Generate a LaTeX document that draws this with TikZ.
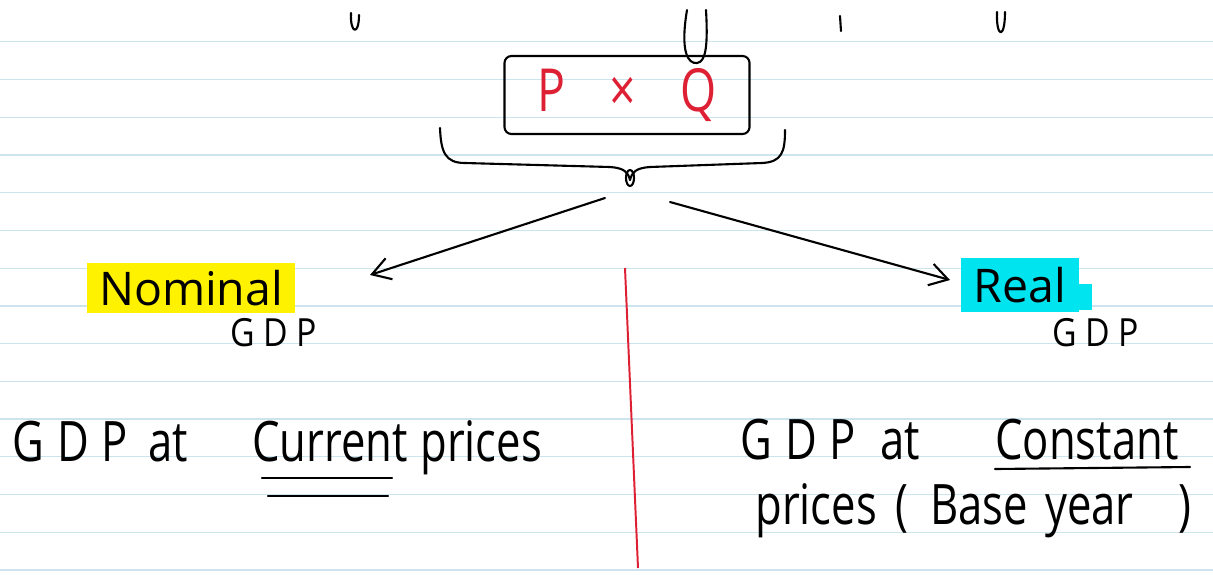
\documentclass[tikz,border=0pt]{standalone}
\usepackage{graphicx}
\usepackage{fontspec}
\setmainfont{Open Sans}
\usetikzlibrary{arrows.meta,calc}
\definecolor{ruled}{RGB}{204,228,238}
\definecolor{hlyellow}{RGB}{255,242,0}
\definecolor{hlcyan}{RGB}{0,228,240}
\definecolor{inkred}{RGB}{222,32,52}
\newcommand{\tall}[1]{\scalebox{1}[1.28]{#1}}

\begin{document}
\begin{tikzpicture}[x=0.025cm, y=-0.025cm,
    ink/.style={line width=1.5pt, line cap=round, line join=round},
    hand/.style={font=\fontsize{31}{36}\selectfont, inner sep=0pt, anchor=base west},
    spaced/.style={font=\fontsize{31}{36}\selectfont\addfontfeature{LetterSpace=30}, inner sep=0pt, anchor=base west},
    gdp/.style={font=\fontsize{24}{28}\selectfont\addfontfeature{LetterSpace=25}, inner sep=0pt, anchor=base west},
    hilite/.style={font=\fontsize{33}{36}\selectfont, inner sep=0pt}]
  % page: 1213 x 574 px, 1 px = 0.025 cm, y runs down
  \useasboundingbox (0,0) rectangle (1213,574);
  \fill[white] (0,0) rectangle (1213,574);
  % ruled lines, one every 37.74 px
  \foreach \k in {0,...,14}
     \draw[ruled, line width=0.9pt] (0,{41.7+37.74*\k}) -- (1213,{41.7+37.74*\k});
  % ends of the line written above
  \draw[ink] (351,13) .. controls (350,34) and (359,36) .. (359,15);
  \draw[ink] (687,10) .. controls (680,52) and (688,64) .. (697,63) .. controls (706,62) and (708,45) .. (706,10);
  \draw[ink] (840,16) -- (841,31);
  \draw[ink] (997,12) .. controls (996,38) and (1005,40) .. (1005,12);
  % P x Q box
  \node[draw, ink, rounded corners=5pt, minimum width=6.125cm, minimum height=1.95cm,
        text=inkred, font=\fontsize{33}{36}\selectfont] (pq) at (627,95)
        {\tall{P\hspace{1.1cm}×\hspace{1.1cm}Q}};
  % brace under the box
  \coordinate (tip) at (630,186);
  \draw[ink] (440,128) .. controls (441,152) and (445,163) .. (465,163) -- (610,167)
     .. controls (624,168) and (628,172) .. (630,180)
     .. controls (632,172) and (636,168) .. (650,167) -- (762,163)
     .. controls (782,162) and (785,152) .. (785,130);
  \draw[ink] (630,178) ellipse (4 and 8);
  % the two branches
  \coordinate (bl) at (605,198);
  \coordinate (br) at (670,202);
  \coordinate (nomtip) at (370,275);
  \coordinate (realtip) at (950,280);
  \draw[ink, -{Straight Barb[length=4.5mm, width=5.5mm]}] (bl) -- (nomtip);
  \draw[ink, -{Straight Barb[length=4.5mm, width=5.5mm]}] (br) -- (realtip);
  % headings
  \node[hilite, fill=hlyellow, minimum width=5.175cm, minimum height=1.27cm] (nominal) at (191,288) {Nominal};
  \node[gdp] (gdpl) at (230,346) {\scalebox{1}[1.15]{GDP}};
  \fill[hlcyan] (1078,284) rectangle (1092,310);
  \node[hilite, fill=hlcyan, minimum width=2.95cm, minimum height=1.35cm] (real) at (1020,285) {Real};
  \node[gdp] (gdpr) at (1052,346) {\scalebox{1}[1.15]{GDP}};
  % margin line
  \draw[inkred, line width=1.4pt] (625,268) -- (638,568);
  % left column
  \node[spaced] (lgdp) at (12,461) {\tall{GDP}};
  \node[hand] (lat) at (148,461) {\tall{at}};
  \node[hand] (current) at (252,461) {\tall{Current}};
  \node[hand] (lprices) at (420,461) {\tall{prices}};
  \draw[ink] (262,478) -- (392,478);
  \draw[ink] (268,496) -- (388,496);
  % right column
  \node[spaced] (rgdp) at (740,459) {\tall{GDP}};
  \node[hand] (rat) at (880,459) {\tall{at}};
  \node[hand] (constant) at (995,459) {\tall{Constant}};
  \draw[ink] (995,469) -- (1190,467);
  \node[hand] (rprices) at (755,524) {\tall{prices}};
  \node[hand] (open) at (895,524) {\tall{(}};
  \node[hand] (base) at (930,524) {\tall{Base}};
  \node[hand] (year) at (1045,524) {\tall{year}};
  \node[hand] (close) at (1178,524) {\tall{)}};
\end{tikzpicture}
\end{document}
